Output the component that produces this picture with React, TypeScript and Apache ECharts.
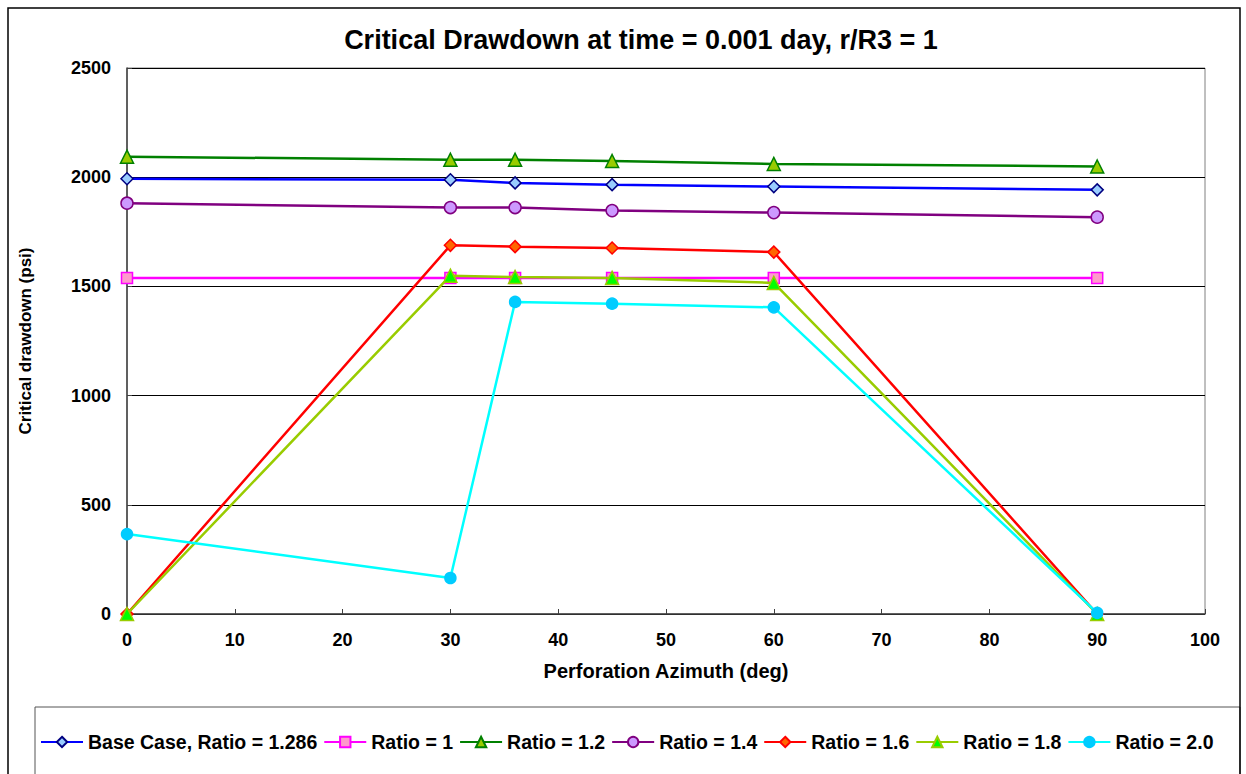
import React, { useEffect, useRef } from "react";
import * as echarts from "echarts";

const azimuth = [0, 30, 36, 45, 60, 90];
const seriesNames = [
  "Base Case, Ratio = 1.286",
  "Ratio = 1",
  "Ratio = 1.2",
  "Ratio = 1.4",
  "Ratio = 1.6",
  "Ratio = 1.8",
  "Ratio = 2.0",
];
const baseCase = [1993, 1988, 1974, 1966, 1957, 1942];
const ratio10 = [1538, 1538, 1538, 1538, 1538, 1538];
const ratio12 = [2094, 2080, 2080, 2074, 2061, 2049];
const ratio14 = [1881, 1861, 1861, 1847, 1838, 1817];
const ratio16 = [0, 1688, 1682, 1676, 1657, 0];
const ratio18 = [0, 1549, 1543, 1539, 1516, 0];
const ratio20 = [366, 165, 1429, 1421, 1404, 5];
const yTicks = [0, 500, 1000, 1500, 2000, 2500];
const xTicks = [0, 10, 20, 30, 40, 50, 60, 70, 80, 90, 100];

const seriesValues = [baseCase, ratio10, ratio12, ratio14, ratio16, ratio18, ratio20];
const lineColors = ["#0000FF", "#FF00FF", "#008000", "#800080", "#FF0000", "#99CC00", "#00FFFF"];
const fillColors = ["#99CCFF", "#FF99CC", "#99CC00", "#CC99FF", "#FF6600", "#00FF00", "#00CCFF"];
const borderColors = ["#000080", "#FF00FF", "#008000", "#800080", "#FF0000", "#99CC00", "#00CCFF"];
const symbols = ["diamond", "rect", "triangle", "circle", "diamond", "triangle", "circle"];
const symbolSizes = [12, 11, 13, 12, 12, 13, 11];

const FONT = "Liberation Sans, Arial, sans-serif";

export default function App() {
  const ref = useRef<HTMLDivElement>(null);
  useEffect(() => {
    document.body.style.margin = "0";
    const chart = echarts.init(ref.current!, null, { renderer: "svg" });
    const series = seriesNames.map((name, i) => ({
      name,
      type: "line",
      data: azimuth.map((x, j) => [x, seriesValues[i][j]]),
      symbol: symbols[i],
      symbolSize: symbolSizes[i],
      showSymbol: true,
      lineStyle: { color: lineColors[i], width: 2.5 },
      itemStyle: { color: fillColors[i], borderColor: borderColors[i], borderWidth: 1.5 },
      z: 3 + i,
    }));
    chart.setOption({
      animation: false,
      backgroundColor: "#ffffff",
      title: {
        text: "Critical Drawdown at time = 0.001 day, r/R3 = 1",
        left: 636,
        textAlign: "center",
        top: 21,
        textStyle: { fontFamily: FONT, fontSize: 27, fontWeight: "bold", color: "#000" },
      },
      grid: {
        left: 127,
        right: 41,
        top: 68,
        bottom: 160,
        show: true,
        borderColor: "#808080",
        borderWidth: 1,
        backgroundColor: "transparent",
      },
      xAxis: {
        type: "value",
        min: xTicks[0],
        max: xTicks[xTicks.length - 1],
        interval: 10,
        name: "Perforation Azimuth (deg)",
        nameLocation: "middle",
        nameGap: 47,
        nameTextStyle: { fontFamily: FONT, fontSize: 20, fontWeight: "bold", color: "#000" },
        axisLine: { show: true, onZero: false, lineStyle: { color: "#404040", width: 1.5 } },
        axisTick: { show: true, inside: true, length: 5, lineStyle: { color: "#404040" } },
        axisLabel: { fontFamily: FONT, fontSize: 18, fontWeight: "bold", color: "#000", margin: 17 },
        splitLine: { show: false },
      },
      yAxis: {
        type: "value",
        min: yTicks[0],
        max: yTicks[yTicks.length - 1],
        interval: 500,
        name: "Critical drawdown (psi)",
        nameLocation: "middle",
        nameRotate: 90,
        nameGap: 93,
        nameTextStyle: { fontFamily: FONT, fontSize: 17, fontWeight: "bold", color: "#000" },
        axisLine: { show: true, onZero: false, lineStyle: { color: "#404040", width: 1.5 } },
        axisTick: { show: true, inside: true, length: 5, lineStyle: { color: "#404040" } },
        axisLabel: {
          fontFamily: FONT,
          fontSize: 18,
          fontWeight: "bold",
          color: "#000",
          margin: 16,
          formatter: (v: number) => String(v),
        },
        splitLine: { show: true, lineStyle: { color: "#000", width: 1 } },
      },
      legend: {
        data: seriesNames,
        left: 40,
        top: 732,
        width: 1400,
        itemWidth: 42,
        itemHeight: 13,
        itemGap: 6,
        padding: 0,
        textStyle: { fontFamily: FONT, fontSize: 19.5, fontWeight: "bold", color: "#000", padding: [0, 0, 0, 0] },
      },
      graphic: [
        {
          type: "rect",
          shape: { x: 35, y: 707, width: 1205, height: 100 },
          style: { fill: "none", stroke: "#555", lineWidth: 1 },
          silent: true,
          z: 1,
        },
        {
          type: "rect",
          shape: { x: 8, y: 8, width: 1232, height: 800 },
          style: { fill: "none", stroke: "#000", lineWidth: 1.5 },
          silent: true,
          z: 101,
        },
      ],
      series,
    });
    return () => chart.dispose();
  }, []);
  return <div ref={ref} style={{ width: 1246, height: 774 }} />;
}
